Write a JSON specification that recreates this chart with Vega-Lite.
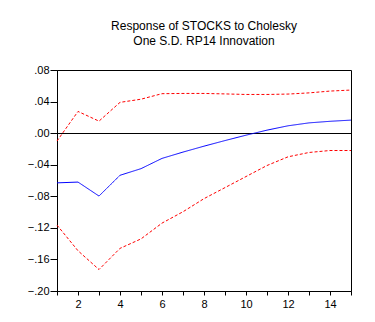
{
  "$schema": "https://vega.github.io/schema/vega-lite/v6.json",
  "autosize": "none",
  "width": 294,
  "height": 221,
  "padding": {"left": 57, "top": 70, "right": 24, "bottom": 31},
  "background": "white",
  "title": {
    "text": ["Response of STOCKS to Cholesky", "One S.D. RP14 Innovation"],
    "font": "Liberation Sans",
    "fontSize": 12,
    "fontWeight": "normal",
    "color": "#000",
    "lineHeight": 15,
    "offset": 16,
    "anchor": "middle"
  },
  "config": {
    "view": {"stroke": "#000", "strokeWidth": 1},
    "axis": {
      "domainColor": "#000",
      "tickColor": "#000",
      "labelColor": "#000",
      "labelFont": "Liberation Sans",
      "labelFontSize": 11,
      "title": null
    }
  },
  "data": {
    "values": [
      {"step": 1, "series": "upper", "value": -0.010},
      {"step": 2, "series": "upper", "value": 0.0275},
      {"step": 3, "series": "upper", "value": 0.0152},
      {"step": 4, "series": "upper", "value": 0.039},
      {"step": 5, "series": "upper", "value": 0.043},
      {"step": 6, "series": "upper", "value": 0.050},
      {"step": 7, "series": "upper", "value": 0.0503},
      {"step": 8, "series": "upper", "value": 0.0503},
      {"step": 9, "series": "upper", "value": 0.0497},
      {"step": 10, "series": "upper", "value": 0.049},
      {"step": 11, "series": "upper", "value": 0.049},
      {"step": 12, "series": "upper", "value": 0.0495},
      {"step": 13, "series": "upper", "value": 0.051},
      {"step": 14, "series": "upper", "value": 0.0533},
      {"step": 15, "series": "upper", "value": 0.0546},
      {"step": 1, "series": "lower", "value": -0.1165},
      {"step": 2, "series": "lower", "value": -0.149},
      {"step": 3, "series": "lower", "value": -0.1728},
      {"step": 4, "series": "lower", "value": -0.146},
      {"step": 5, "series": "lower", "value": -0.134},
      {"step": 6, "series": "lower", "value": -0.114},
      {"step": 7, "series": "lower", "value": -0.0996},
      {"step": 8, "series": "lower", "value": -0.083},
      {"step": 9, "series": "lower", "value": -0.069},
      {"step": 10, "series": "lower", "value": -0.055},
      {"step": 11, "series": "lower", "value": -0.041},
      {"step": 12, "series": "lower", "value": -0.030},
      {"step": 13, "series": "lower", "value": -0.0245},
      {"step": 14, "series": "lower", "value": -0.022},
      {"step": 15, "series": "lower", "value": -0.022},
      {"step": 1, "series": "resp", "value": -0.063},
      {"step": 2, "series": "resp", "value": -0.062},
      {"step": 3, "series": "resp", "value": -0.0797},
      {"step": 4, "series": "resp", "value": -0.0534},
      {"step": 5, "series": "resp", "value": -0.045},
      {"step": 6, "series": "resp", "value": -0.032},
      {"step": 7, "series": "resp", "value": -0.024},
      {"step": 8, "series": "resp", "value": -0.0165},
      {"step": 9, "series": "resp", "value": -0.0094},
      {"step": 10, "series": "resp", "value": -0.0026},
      {"step": 11, "series": "resp", "value": 0.0038},
      {"step": 12, "series": "resp", "value": 0.0093},
      {"step": 13, "series": "resp", "value": 0.013},
      {"step": 14, "series": "resp", "value": 0.015},
      {"step": 15, "series": "resp", "value": 0.0165}
    ]
  },
  "mark": {"type": "line", "strokeWidth": 1},
  "encoding": {
    "x": {
      "field": "step",
      "type": "quantitative",
      "scale": {"domain": [1, 15], "nice": false, "zero": false},
      "axis": {
        "values": [1, 2, 3, 4, 5, 6, 7, 8, 9, 10, 11, 12, 13, 14, 15],
        "labelExpr": "datum.value % 2 == 0 ? datum.label : ''",
        "labelOverlap": false,
        "grid": false,
        "tickSize": 4,
        "labelPadding": 3,
        "labelFlush": false
      }
    },
    "y": {
      "field": "value",
      "type": "quantitative",
      "scale": {"domain": [-0.2, 0.08], "nice": false, "zero": false},
      "axis": {
        "values": [-0.2, -0.16, -0.12, -0.08, -0.04, 0, 0.04, 0.08],
        "format": ".2f",
        "labelExpr": "replace(datum.label, '0.', '.')",
        "labelOverlap": false,
        "grid": true,
        "gridColor": {"condition": {"test": "datum.value === 0", "value": "#000000"}, "value": "transparent"},
        "gridWidth": 1,
        "tickSize": 7,
        "labelPadding": 1,
        "labelFlush": false
      }
    },
    "color": {
      "field": "series",
      "type": "nominal",
      "scale": {"domain": ["resp", "upper", "lower"], "range": ["#0000ff", "#ff0000", "#ff0000"]},
      "legend": null
    },
    "strokeDash": {
      "field": "series",
      "type": "nominal",
      "scale": {"domain": ["resp", "upper", "lower"], "range": [[1, 0], [3, 2], [3, 2]]},
      "legend": null
    }
  }
}
